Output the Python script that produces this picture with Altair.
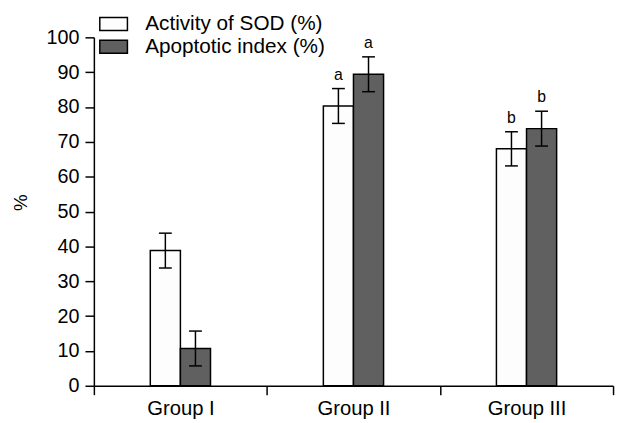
import altair as alt
import pandas as pd

groups = ["Group I", "Group II", "Group III"]
series = ["Activity of SOD (%)", "Apoptotic index (%)"]
sod = [38.8, 80.3, 68.0]
apop = [10.7, 89.4, 73.8]
sod_err = [5.0, 5.0, 4.9]
apop_err = [5.0, 5.0, 5.0]
sod_labels = ["", "a", "b"]
apop_labels = ["", "a", "b"]
y_ticks = [0, 10, 20, 30, 40, 50, 60, 70, 80, 90, 100]
colors = ["#fdfdfd", "#606060"]

rows = []
for i, g in enumerate(groups):
    rows.append({"group": g, "series": series[0], "value": sod[i],
                 "lo": sod[i] - sod_err[i], "hi": sod[i] + sod_err[i], "label": sod_labels[i]})
    rows.append({"group": g, "series": series[1], "value": apop[i],
                 "lo": apop[i] - apop_err[i], "hi": apop[i] + apop_err[i], "label": apop_labels[i]})
df = pd.DataFrame(rows)

FONT = "Liberation Sans"
W = 526
H = 353
band = W / len(groups)
barw = 30.5

base = alt.Chart(df).encode(
    x=alt.X("group:N", sort=groups, scale=alt.Scale(paddingInner=0, paddingOuter=0),
            axis=alt.Axis(title=None, tickBand="extent", labelAngle=0, tickSize=9,
                          labelPadding=4, labelFontSize=20.5, labelColor="black",
                          domainColor="black", tickColor="black", domainWidth=1.5,
                          tickWidth=1.5, grid=False)),
    xOffset=alt.XOffset("series:N", sort=series,
                        scale=alt.Scale(paddingInner=0, paddingOuter=0,
                                        range=[band / 2 - barw, band / 2 + barw])),
)

yscale = alt.Scale(domain=[0, 100], nice=False)
yaxis = alt.Axis(title="%", values=y_ticks, labelOverlap=False,
                 tickSize=9, labelPadding=6, labelFontSize=20, labelColor="black",
                 titleFontSize=19, titleFontWeight="normal", titleColor="black",
                 titleX=-74, titleY=167, titleBaseline="middle", titleAngle=-90,
                 domainColor="black", tickColor="black",
                 domainWidth=1.5, tickWidth=1.5, grid=False)

bars = base.mark_bar(stroke="black", strokeWidth=1.5).encode(
    y=alt.Y("value:Q", scale=yscale, axis=yaxis),
    fill=alt.Fill("series:N", sort=series,
                  scale=alt.Scale(domain=series, range=colors),
                  legend=alt.Legend(orient="none", legendX=5, legendY=-25, title=None,
                                    symbolType="M-1,-0.464H1V0.464H-1Z", symbolSize=784,
                                    symbolStrokeColor="black", symbolStrokeWidth=1.5,
                                    symbolOpacity=1, labelFontSize=21, labelColor="black",
                                    labelLimit=400, labelOffset=17, rowPadding=0,
                                    clipHeight=23)),
)

rules = base.mark_rule(color="black", strokeWidth=1.5).encode(
    y=alt.Y("lo:Q", scale=yscale, axis=yaxis), y2="hi:Q")
cap_lo = base.mark_tick(color="black", thickness=1.5, size=13, opacity=1).encode(
    y=alt.Y("lo:Q", scale=yscale, axis=yaxis))
cap_hi = base.mark_tick(color="black", thickness=1.5, size=13, opacity=1).encode(
    y=alt.Y("hi:Q", scale=yscale, axis=yaxis))
letters = base.mark_text(dy=-9, fontSize=16, baseline="alphabetic", color="black").encode(
    y=alt.Y("hi:Q", scale=yscale, axis=yaxis), text="label:N")

chart = alt.layer(bars, rules, cap_lo, cap_hi, letters).properties(
    width=W, height=H,
    autosize=alt.AutoSizeParams(type="none"),
    padding={"left": 87, "top": 27, "right": 4, "bottom": 36},
).configure(font=FONT).configure_view(stroke=None)

chart.save("out.html", embed_options={"renderer": "svg", "actions": False})
